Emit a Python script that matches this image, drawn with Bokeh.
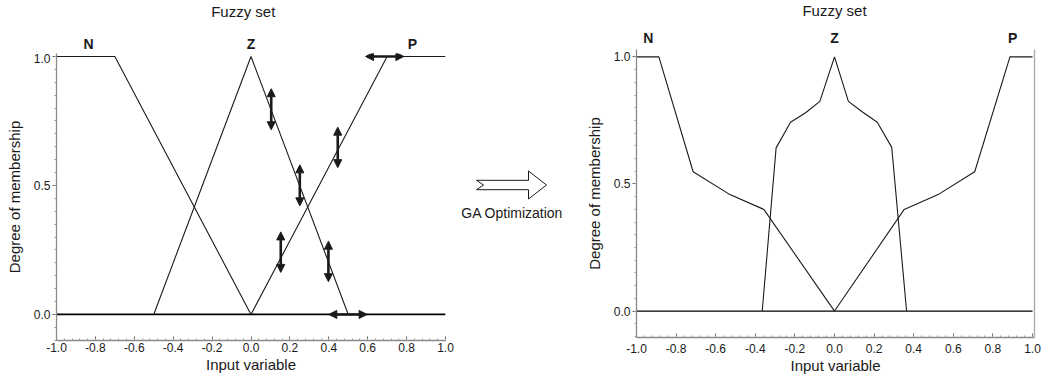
import numpy as np
from bokeh.plotting import figure
from bokeh.layouts import row, column
from bokeh.models import (Range1d, Arrow, NormalHead, FixedTicker, LinearAxis,
                          ColumnDataSource, PrintfTickFormatter)
from bokeh.core.properties import value
from bokeh.embed import file_html
from bokeh.resources import INLINE

FONT = "Liberation Sans"
INK = "#1a1a1a"
AXIS = "#8a8a8a"

# ---------------- data ----------------
set_names = ["N", "Z", "P"]
x_tick_values = [-1.0, -0.8, -0.6, -0.4, -0.2, 0.0, 0.2, 0.4, 0.6, 0.8, 1.0]
y_tick_values = [0.0, 0.5, 1.0]
baseline_x = [-1.0, 1.0]
baseline_y = [0.0, 0.0]

# initial fuzzy sets (left)
init_N_x = [-1.0, -0.7, 0.0]
init_N_y = [1.0, 1.0, 0.0]
init_Z_x = [-0.5, 0.0, 0.5]
init_Z_y = [0.0, 1.0, 0.0]
init_P_x = [0.0, 0.7, 1.0]
init_P_y = [0.0, 1.0, 1.0]

# tuning arrows on the initial sets
v_arrow_x = [0.104, 0.251, 0.446, 0.153, 0.398]
v_arrow_y0 = [0.716, 0.421, 0.569, 0.163, 0.127]
v_arrow_y1 = [0.875, 0.580, 0.726, 0.320, 0.284]
h_arrow_y = [0.0, 1.0]
h_arrow_x0 = [0.400, 0.589]
h_arrow_x1 = [0.597, 0.786]

# GA-optimized fuzzy sets (right)
opt_N_x = [-1.0, -0.887, -0.714, -0.534, -0.357, 0.0]
opt_N_y = [1.0, 1.0, 0.548, 0.461, 0.400, 0.0]
opt_Z_x = [-0.365, -0.295, -0.222, -0.146, -0.074, 0.0, 0.070, 0.143, 0.216, 0.289, 0.364]
opt_Z_y = [0.0, 0.642, 0.743, 0.780, 0.825, 1.0, 0.825, 0.782, 0.743, 0.644, 0.0]
opt_P_x = [0.0, 0.352, 0.529, 0.708, 0.886, 1.0]
opt_P_y = [0.0, 0.400, 0.461, 0.548, 1.0, 1.0]

# header texts: x in data units, y in pixels from the top of the header strip
left_label_x = [-0.835, 0.0, 0.830]
left_label_y = [43.6, 43.6, 43.6]
right_label_x = [-0.941, 0.0, 0.900]
right_label_y = [37.5, 37.5, 37.5]
left_title_x, left_title_y = -0.04, 10.5
right_title_x, right_title_y = 0.0, 9.5

# GA arrow outline (middle panel, pixel units)
ga_arrow_x = [16, 68, 68, 86, 68, 68, 16, 23]
ga_arrow_y = [179.8, 179.8, 170.5, 184.5, 198.5, 189.2, 189.2, 184.5]


def style(p, ylab_standoff, xtick_standoff, xlab_standoff):
    xminor = [float(v) for v in np.round(np.arange(-1.0, 1.0001, 0.04), 2)]
    yminor = [float(v) for v in np.round(np.arange(-0.1, 1.0001, 0.05), 2)]
    p.grid.visible = False
    p.outline_line_color = None
    p.xaxis.ticker = FixedTicker(ticks=x_tick_values, minor_ticks=xminor)
    p.yaxis.ticker = FixedTicker(ticks=y_tick_values, minor_ticks=yminor)
    for ax in (p.xaxis, p.yaxis):
        ax.formatter = PrintfTickFormatter(format="%.1f")
        ax.axis_line_color = AXIS
        ax.axis_line_width = 1.3
        ax.major_tick_line_color = "#666666"
        ax.minor_tick_line_color = "#9a9a9a"
        ax.major_label_text_font = FONT
        ax.major_label_text_font_size = "12px"
        ax.major_label_text_color = INK
        ax.axis_label_text_font = FONT
        ax.axis_label_text_font_size = "15px"
        ax.axis_label_text_font_style = "normal"
        ax.axis_label_text_color = INK
    p.xaxis.major_tick_in = 4
    p.xaxis.major_tick_out = 0
    p.xaxis.minor_tick_in = 2
    p.xaxis.minor_tick_out = 0
    p.xaxis.major_label_standoff = xtick_standoff
    p.xaxis.axis_label_standoff = xlab_standoff
    p.yaxis.major_tick_in = 0
    p.yaxis.major_tick_out = 4
    p.yaxis.minor_tick_in = 0
    p.yaxis.minor_tick_out = 2
    p.yaxis.major_label_standoff = 2
    p.yaxis.axis_label_standoff = ylab_standoff


def header(x_range, width, height, bl, br, label_x, label_y, title_x, title_y):
    h = figure(width=width, height=height, x_range=x_range, y_range=Range1d(height, 0),
               output_backend="svg", toolbar_location=None, x_axis_type=None, y_axis_type=None,
               min_border_left=bl, min_border_right=br, min_border_top=0, min_border_bottom=0)
    h.grid.visible = False
    h.outline_line_color = None
    h.text(x=label_x, y=label_y, text=set_names, text_font=value(FONT), text_font_size="14px",
           text_font_style="bold", text_color=INK, text_align="center", text_baseline="middle")
    h.text(x=[title_x], y=[title_y], text=["Fuzzy set"], text_font=value(FONT), text_font_size="15px",
           text_color=INK, text_align="center", text_baseline="middle")
    return h


# ---------------- left panel ----------------
xr_left = Range1d(-1.0, 1.0)
left = figure(width=460, height=329, x_range=xr_left, y_range=Range1d(-0.101, 1.0116),
              output_backend="svg", toolbar_location=None,
              min_border_left=56, min_border_right=15, min_border_top=0, min_border_bottom=42,
              x_axis_label="Input variable", y_axis_label="Degree of membership")
style(left, 8, 2, 1)
left.line(baseline_x, baseline_y, line_color="black", line_width=1.8)
for xs, ys in ((init_N_x, init_N_y), (init_Z_x, init_Z_y), (init_P_x, init_P_y)):
    left.line(xs, ys, line_color=INK, line_width=1.1)

vsrc = ColumnDataSource(dict(x0=v_arrow_x, y0=v_arrow_y0, x1=v_arrow_x, y1=v_arrow_y1))
hsrc = ColumnDataSource(dict(x0=h_arrow_x0, y0=h_arrow_y, x1=h_arrow_x1, y1=h_arrow_y))
for src in (vsrc, hsrc):
    left.add_layout(Arrow(source=src, x_start="x0", y_start="y0", x_end="x1", y_end="y1",
                          line_color=INK, line_width=2.6,
                          start=NormalHead(size=8, fill_color=INK, line_color=INK, line_width=1),
                          end=NormalHead(size=8, fill_color=INK, line_color=INK, line_width=1)))
head_left = header(xr_left, 460, 53, 56, 15, left_label_x, left_label_y, left_title_x, left_title_y)

# ---------------- middle (GA arrow) ----------------
mid = figure(width=120, height=382, x_range=Range1d(0, 120), y_range=Range1d(382, 0),
             output_backend="svg", toolbar_location=None, x_axis_type=None, y_axis_type=None,
             min_border=0)
mid.grid.visible = False
mid.outline_line_color = None
mid.patch(ga_arrow_x, ga_arrow_y, fill_color="white", line_color=INK, line_width=1)
mid.text(x=[51.7], y=[212.7], text=["GA Optimization"], text_font=value(FONT), text_font_size="14px",
         text_color=INK, text_align="center", text_baseline="middle")

# ---------------- right panel ----------------
xr_right = Range1d(-1.0, 1.01)
right = figure(width=464, height=333, x_range=xr_right, y_range=Range1d(-0.104, 1.029),
               output_backend="svg", toolbar_location=None,
               min_border_left=56, min_border_right=10, min_border_top=0, min_border_bottom=45,
               x_axis_label="Input variable", y_axis_label="Degree of membership")
style(right, 8, 6, 1)
edge = LinearAxis(ticker=FixedTicker(ticks=[]), axis_line_color="#a8a8a8", axis_line_width=1.3,
                  major_tick_line_color=None, minor_tick_line_color=None)
right.add_layout(edge, "right")
right.line(baseline_x, baseline_y, line_color="black", line_width=1.3)
for xs, ys in ((opt_N_x, opt_N_y), (opt_Z_x, opt_Z_y), (opt_P_x, opt_P_y)):
    right.line(xs, ys, line_color=INK, line_width=1.1)
head_right = header(xr_right, 464, 49, 56, 10, right_label_x, right_label_y, right_title_x, right_title_y)

layout = row(column(head_left, left), mid, column(head_right, right))
open("out.html", "w").write(file_html(layout, INLINE))
